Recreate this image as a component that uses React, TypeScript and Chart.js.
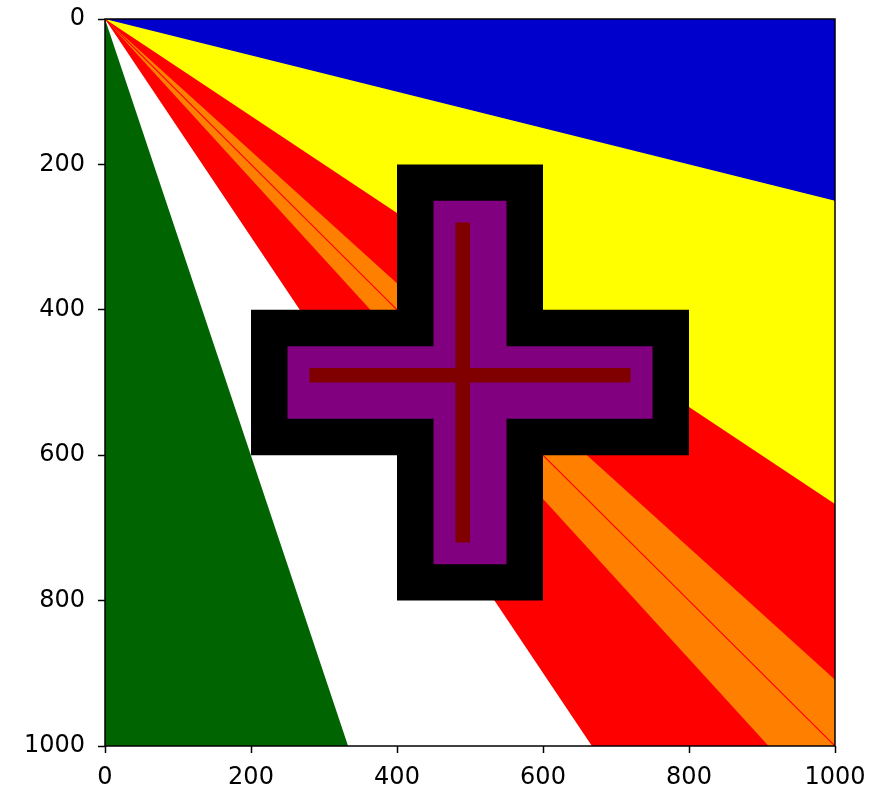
import React, { useEffect, useRef } from "react";
import { Chart, registerables } from "chart.js";

Chart.register(...registerables);

type P = { x: number; y: number };
const pts = (a: number[][]): P[] => a.map(([x, y]) => ({ x, y }));

// Axis ticks
const xTicks = [0, 200, 400, 600, 800, 1000];
const yTicks = [0, 200, 400, 600, 800, 1000];

// Colour regions (image coordinates, y grows downward), drawn bottom to top
const blueRegion = [[0, 0], [1000, 0], [1000, 1000], [0, 1000], [0, 0]];
const yellowRegion = [[0, 0], [1000, 250], [1000, 1000], [0, 1000], [0, 0]];
const redRegion = [[0, 0], [1000, 667], [1000, 1000], [0, 1000], [0, 0]];
const whiteRegion = [[0, 0], [667, 1000], [0, 1000], [0, 0]];
const greenRegion = [[0, 0], [333, 1000], [0, 1000], [0, 0]];
const orangeRegion = [[0, 0], [1000, 909], [1000, 1000], [909, 1000], [0, 0]];
const diagonalLine = [[0, 0], [1000, 1000]];

// Cross shapes
const blackCross = [
  [400, 200], [600, 200], [600, 400], [800, 400], [800, 600], [600, 600],
  [600, 800], [400, 800], [400, 600], [200, 600], [200, 400], [400, 400], [400, 200],
];
const purpleCross = [
  [450, 250], [550, 250], [550, 450], [750, 450], [750, 550], [550, 550],
  [550, 750], [450, 750], [450, 550], [250, 550], [250, 450], [450, 450], [450, 250],
];
const maroonVertical = [[480, 280], [500, 280], [500, 720], [480, 720], [480, 280]];
const maroonHorizontal = [[280, 480], [720, 480], [720, 500], [280, 500], [280, 480]];

const layers: { data: number[][]; color: string; line?: boolean }[] = [
  { data: blueRegion, color: "#0000cc" },
  { data: yellowRegion, color: "#ffff00" },
  { data: redRegion, color: "#ff0000" },
  { data: whiteRegion, color: "#ffffff" },
  { data: greenRegion, color: "#006400" },
  { data: orangeRegion, color: "#ff8000" },
  { data: diagonalLine, color: "#ff0000", line: true },
  { data: blackCross, color: "#000000" },
  { data: purpleCross, color: "#800080" },
  { data: maroonVertical, color: "#800000" },
  { data: maroonHorizontal, color: "#800000" },
];

const framePlugin = {
  id: "frame",
  afterDatasetsDraw(chart: any) {
    const { ctx, chartArea: a } = chart;
    ctx.save();
    ctx.strokeStyle = "#000";
    ctx.lineWidth = 1.5;
    ctx.strokeRect(a.left, a.top, a.right - a.left, a.bottom - a.top);
    ctx.restore();
  },
};

export default function App() {
  const ref = useRef<HTMLCanvasElement>(null);
  useEffect(() => {
    if (!ref.current) return;
    const n = layers.length;
    const font = { family: "'DejaVu Sans'", size: 24 };
    const plain = (v: any) => String(v);
    const chart = new Chart(ref.current, {
      type: "scatter",
      data: {
        datasets: layers.map((l, i) => ({
          data: pts(l.data),
          showLine: true,
          fill: l.line ? false : "shape",
          backgroundColor: l.color,
          borderColor: l.color,
          borderWidth: l.line ? 1.2 : 0,
          pointRadius: 0,
          order: n - i,
        })) as any,
      },
      options: {
        animation: false,
        responsive: false,
        events: [],
        layout: { padding: { left: 0, right: 46, top: 19, bottom: 0 } },
        plugins: {
          legend: { display: false },
          tooltip: { enabled: false },
        },
        scales: {
          x: {
            type: "linear",
            min: 0,
            max: 1000,
            afterBuildTicks: (s: any) => {
              s.ticks = xTicks.map((v) => ({ value: v }));
            },
            afterFit: (s: any) => {
              s.height = 44;
              s.paddingLeft = 0;
              s.paddingRight = 0;
            },
            ticks: { font, color: "#000", padding: 10, callback: plain },
            grid: { drawOnChartArea: false, drawTicks: true, tickLength: 7, tickWidth: 1.5, color: "#000" },
            border: { display: false },
          },
          y: {
            type: "linear",
            reverse: true,
            min: 0,
            max: 1000,
            afterBuildTicks: (s: any) => {
              s.ticks = yTicks.map((v) => ({ value: v }));
            },
            afterFit: (s: any) => {
              s.width = 105;
              s.paddingTop = 0;
              s.paddingBottom = 0;
            },
            ticks: { font, color: "#000", padding: 13, callback: plain },
            grid: { drawOnChartArea: false, drawTicks: true, tickLength: 7, tickWidth: 1.5, color: "#000" },
            border: { display: false },
          },
        },
      },
      plugins: [framePlugin],
    });
    return () => chart.destroy();
  }, []);
  return (
    <div style={{ position: "absolute", left: 0, top: 0, width: 881, height: 790, background: "#fff" }}>
      <canvas ref={ref} width={881} height={790} />
    </div>
  );
}
